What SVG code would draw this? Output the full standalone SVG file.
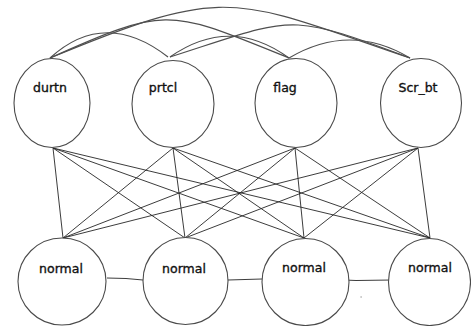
<svg xmlns="http://www.w3.org/2000/svg" width="471" height="326" viewBox="0 0 471 326">
  <style>
    .node ellipse { fill: #ffffff; stroke: #4a4a4a; stroke-width: 1.1; }
    .node text { font-family: "DejaVu Sans", "Liberation Sans", sans-serif; font-size: 12.5px; fill: #111111; stroke: #111111; stroke-width: 0.35; text-anchor: middle; }
    .arc { fill: none; stroke: #4f4f4f; stroke-width: 1.2; }
    .link { fill: none; stroke: #262626; stroke-width: 0.9; }
  </style>
  <rect width="471" height="326" fill="#ffffff"/>

  <!-- connectors -->
  <g id="connectors">
    <!-- arcs among the upper nodes -->
    <path class="arc" d="M50,58 C229,-16 231,-3 410,58"/>
    <path class="arc" d="M50,58 Q105,8 168,57"/>
    <path class="arc" d="M50,58 C169,4.5 170,10 289,58"/>
    <path class="arc" d="M170,57 C295,17 285,11 410,58"/>
    <path class="arc" d="M170,57 Q230,15 289,58"/>
    <path class="arc" d="M289,58 Q350,22 410,58"/>

    <!-- upper layer to lower layer -->
    <path class="link" d="M53,148 L63,238 M53,148 L185,238 M53,148 L304,238 M53,148 L430,238"/>
    <path class="link" d="M173,148 L63,238 M173,148 L185,238 M173,148 L304,238 M173,148 L430,238"/>
    <path class="link" d="M295,148 L63,238 M295,148 L185,238 M295,148 L304,238 M295,148 L430,238"/>
    <path class="link" d="M418,148 L63,238 M418,148 L185,238 M418,148 L304,238 M418,148 L430,238"/>

    <!-- chain along the lower layer -->
    <polyline class="link" points="107,278 126,278.5 143,280"/>
    <polyline class="link" points="228,280 245,279.5 262,279"/>
    <polyline class="link" points="344,280 356,280.5 392,280"/>
    <rect x="360.5" y="296.5" width="1.2" height="1" fill="#777777"/>
  </g>

  <!-- upper layer -->
  <g id="durtn" class="node">
    <ellipse cx="52" cy="103" rx="38" ry="44.5"/>
    <text x="50" y="92">durtn</text>
  </g>
  <g id="prtcl" class="node">
    <ellipse cx="173" cy="104" rx="41" ry="43.5"/>
    <text x="163" y="92">prtcl</text>
  </g>
  <g id="flag" class="node">
    <ellipse cx="296" cy="103" rx="41" ry="44.5"/>
    <text x="285" y="92">flag</text>
  </g>
  <g id="Scr_bt" class="node">
    <ellipse cx="421" cy="103" rx="40.5" ry="44.5"/>
    <text x="418" y="92">Scr_bt</text>
  </g>

  <!-- lower layer -->
  <g id="normal1" class="node">
    <ellipse cx="62" cy="281.5" rx="44" ry="43.5"/>
    <text x="61" y="273">normal</text>
  </g>
  <g id="normal2" class="node">
    <ellipse cx="185.5" cy="281" rx="42.5" ry="43.5"/>
    <text x="184" y="273">normal</text>
  </g>
  <g id="normal3" class="node">
    <ellipse cx="305.5" cy="282" rx="43.5" ry="43.5"/>
    <text x="304" y="272">normal</text>
  </g>
  <g id="normal4" class="node">
    <ellipse cx="429.5" cy="282" rx="41" ry="43.5"/>
    <text x="430" y="272">normal</text>
  </g>
</svg>
